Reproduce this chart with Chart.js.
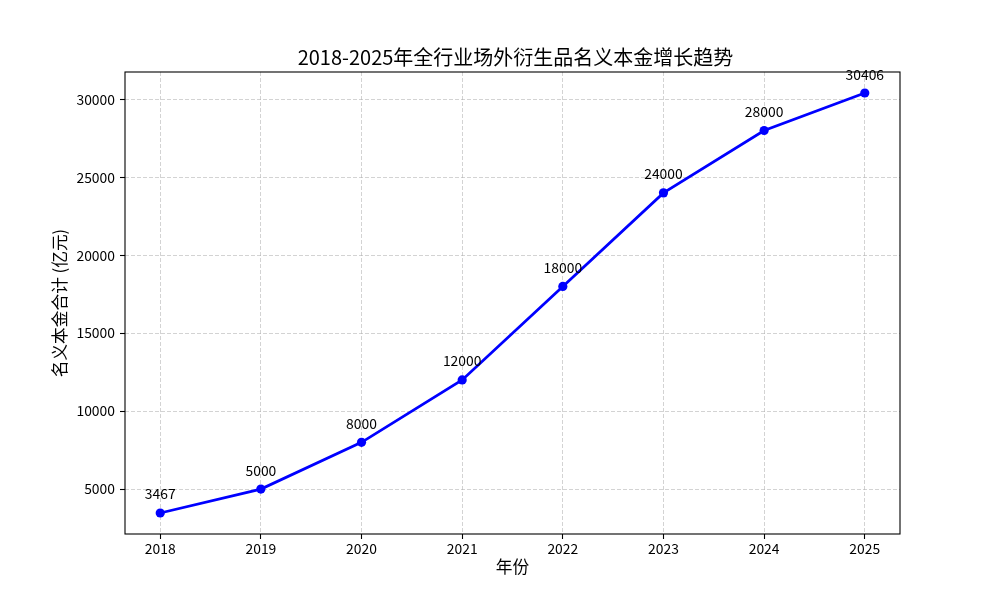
<!DOCTYPE html>
<html>
<head>
<meta charset="utf-8">
<script src="https://cdn.jsdelivr.net/npm/chart.js@4/dist/chart.umd.min.js"></script>
<style>
  html, body { margin: 0; padding: 0; background: #fff; }
  #wrap { width: 1000px; height: 600px; }
</style>
</head>
<body>
<div id="wrap"><canvas id="c" width="1000" height="600"></canvas></div>
<script>
const years = [2018, 2019, 2020, 2021, 2022, 2023, 2024, 2025];
const notional = [3467, 5000, 8000, 12000, 18000, 24000, 28000, 30406];
const yTicks = [5000, 10000, 15000, 20000, 25000, 30000];
const titleText = '2018-2025年全行业场外衍生品名义本金增长趋势';
const xTitle = '年份';
const yTitle = '名义本金合计 (亿元)';

const FONT = '"Noto Sans CJK SC", "Noto Sans", sans-serif';

const framePlugin = {
  id: 'frame',
  beforeDatasetsDraw(chart) {
    const {ctx, chartArea: a} = chart;
    ctx.save();
    ctx.strokeStyle = '#000';
    ctx.lineWidth = 1.1;
    ctx.strokeRect(a.left, a.top, a.right - a.left, a.bottom - a.top);
    ctx.restore();
  },
  afterDatasetsDraw(chart) {
    const {ctx} = chart;
    const meta = chart.getDatasetMeta(0);
    const data = chart.data.datasets[0].data;
    ctx.save();
    ctx.fillStyle = '#000';
    ctx.font = '13.9px ' + FONT;
    ctx.textAlign = 'center';
    ctx.textBaseline = 'alphabetic';
    meta.data.forEach((pt, i) => {
      ctx.fillText(String(data[i].y), pt.x, pt.y - 13.5);
    });
    ctx.font = '20px ' + FONT;
    ctx.textBaseline = 'middle';
    const a = chart.chartArea;
    ctx.fillText(titleText, (a.left + a.right) / 2 + 3, 57);
    ctx.restore();
  }
};

new Chart(document.getElementById('c'), {
  type: 'line',
  data: {
    datasets: [{
      data: years.map((y, i) => ({x: y, y: notional[i]})),
      borderColor: '#0000ff',
      backgroundColor: '#0000ff',
      borderWidth: 2.8,
      pointRadius: 4.6,
      pointHoverRadius: 4.6,
      pointBackgroundColor: '#0000ff',
      pointBorderWidth: 0,
      tension: 0,
      fill: false
    }]
  },
  options: {
    responsive: false,
    animation: false,
    events: [],
    layout: { padding: { left: 0, right: 100, top: 72, bottom: 0 } },
    plugins: { legend: { display: false }, tooltip: { enabled: false }, title: { display: false } },
    scales: {
      x: {
        type: 'linear',
        min: 2017.65,
        max: 2025.35,
        afterBuildTicks: (s) => { s.ticks = years.map(v => ({value: v})); },
        afterFit: (s) => { s.height = 66; },
        ticks: {
          callback: (v) => String(v),
          font: { family: FONT, size: 13.9 },
          color: '#000',
          padding: 1,
          maxRotation: 0,
          autoSkip: false
        },
        grid: {
          color: 'rgba(176,176,176,0.7)',
          lineWidth: 0.8,
          drawTicks: true,
          tickLength: 5,
          tickColor: '#000',
          tickWidth: 1.1,
          tickBorderDash: []
        },
        border: { display: false, dash: [4, 2] },
        title: {
          display: true,
          text: xTitle,
          color: '#000',
          font: { family: FONT, size: 16.7 },
          padding: { top: 0, bottom: 23 }
        }
      },
      y: {
        type: 'linear',
        min: 2120,
        max: 31753,
        afterBuildTicks: (s) => { s.ticks = yTicks.map(v => ({value: v})); },
        afterFit: (s) => { s.width = 125; },
        ticks: {
          callback: (v) => String(v),
          font: { family: FONT, size: 13.9 },
          color: '#000',
          padding: 5,
          autoSkip: false
        },
        grid: {
          color: 'rgba(176,176,176,0.7)',
          lineWidth: 0.8,
          drawTicks: true,
          tickLength: 5,
          tickColor: '#000',
          tickWidth: 1.1,
          tickBorderDash: []
        },
        border: { display: false, dash: [4, 2] },
        title: {
          display: true,
          text: yTitle,
          color: '#000',
          font: { family: FONT, size: 16.7 },
          padding: { top: 50, bottom: 0 }
        }
      }
    }
  },
  plugins: [framePlugin]
});
</script>
</body>
</html>
